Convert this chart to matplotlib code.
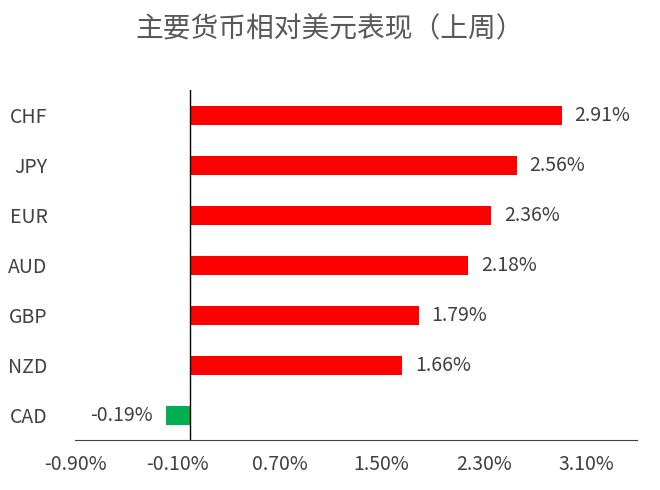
import matplotlib
matplotlib.use("Agg")
import matplotlib.pyplot as plt

plt.rcParams['font.family'] = ['Noto Sans CJK SC', 'DejaVu Sans']

currencies = ["CHF", "JPY", "EUR", "AUD", "GBP", "NZD", "CAD"]
changes = [2.91, 2.56, 2.36, 2.18, 1.79, 1.66, -0.19]
ticks = [-0.9, -0.1, 0.7, 1.5, 2.3, 3.1]

fig = plt.figure(figsize=(6.6, 4.9), dpi=100)
ax = fig.add_axes([0.114, 0.102, 0.851, 0.714])

ypos = list(range(len(currencies)))[::-1]
colors = ["#ff0000" if v >= 0 else "#00b050" for v in changes]
ax.barh(ypos, changes, height=0.38, color=colors)

for y, v in zip(ypos, changes):
    if v >= 0:
        ax.text(v + 0.1, y, f"{v:.2f}%", va="center", ha="left", fontsize=14, color="#404040")
    else:
        ax.text(v - 0.1, y, f"{v:.2f}%", va="center", ha="right", fontsize=14, color="#404040")

ax.axvline(0, color="black", lw=1)
ax.set_xlim(-0.9, 3.5)
ax.set_ylim(-0.5, 6.5)
ax.set_xticks(ticks)
ax.set_xticklabels([f"{t:.2f}%" for t in ticks], fontsize=14, color="#404040")
ax.set_yticks(ypos)
ax.set_yticklabels(currencies, fontsize=14, color="#404040")
ax.tick_params(axis="y", length=0, pad=20)
ax.tick_params(axis="x", length=0, pad=10)
for s in ["top", "right", "left"]:
    ax.spines[s].set_visible(False)
ax.spines["bottom"].set_color("#404040")

fig.suptitle("主要货币相对美元表现（上周）", fontsize=20, color="#595959", y=0.97)
fig.savefig("out.png", dpi=100)
